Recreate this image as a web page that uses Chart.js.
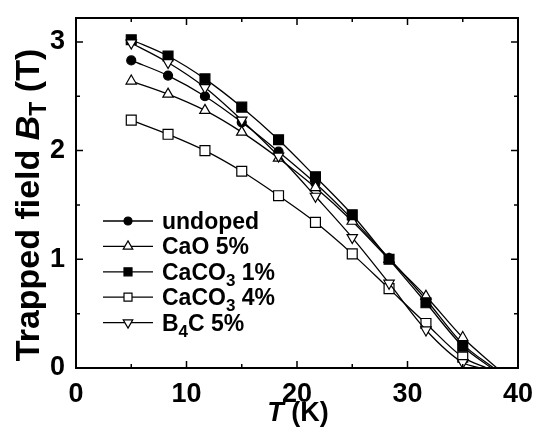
<!DOCTYPE html>
<html>
<head>
<meta charset="utf-8">
<script src="https://cdn.jsdelivr.net/npm/chart.js@4.4.1/dist/chart.umd.min.js"></script>
<style>
  html, body { margin: 0; padding: 0; background: #fff; }
  canvas { display: block; }
</style>
</head>
<body>
<canvas id="trapped" width="534" height="427"></canvas>
<script>
// measured temperatures (K)
const temps = [5, 8.33, 11.67, 15, 18.33, 21.67, 25, 28.33, 31.67, 35];

// trapped field B_T (T) for each sample
const undoped  = [2.83, 2.69, 2.50, 2.26, 1.99, 1.70, 1.37, 1.01, 0.63, 0.22];
const caO5     = [2.64, 2.52, 2.37, 2.17, 1.93, 1.66, 1.35, 1.00, 0.66, 0.28];
const caCO3_1  = [3.02, 2.87, 2.66, 2.40, 2.10, 1.76, 1.41, 1.00, 0.60, 0.20];
const caCO3_4  = [2.28, 2.15, 2.00, 1.81, 1.585, 1.34, 1.05, 0.73, 0.41, 0.10];
const b4C5     = [2.99, 2.81, 2.58, 2.28, 1.95, 1.58, 1.20, 0.78, 0.35, 0.05];

// temperature where each curve reaches zero (line only, no marker)
const zeroT = [37.8, 38.1, 37.6, 37.2, 36.6];

const xTicks = [0, 10, 20, 30, 40];
const yTicks = [0, 1, 2, 3];

const FONT = "'Liberation Sans', Arial, Helvetica, sans-serif";

// legend labels: [main, subscript, rest]
const labels = [
  ['undoped', '', ''],
  ['CaO 5%', '', ''],
  ['CaCO', '3', ' 1%'],
  ['CaCO', '3', ' 4%'],
  ['B', '4', 'C 5%']
];

const styles = [
  { shape: 'circle', fill: '#000', radius: 4.5, rot: 0 },
  { shape: 'triangle', fill: '#fff', radius: 6, rot: 0 },
  { shape: 'rect', fill: '#000', radius: 7, rot: 0 },
  { shape: 'rect', fill: '#fff', radius: 7, rot: 0 },
  { shape: 'triangle', fill: '#fff', radius: 6, rot: 180 }
];

const series = [undoped, caO5, caCO3_1, caCO3_4, b4C5];

function makeDataset(vals, i) {
  const st = styles[i];
  const pts = temps.map((t, k) => ({ x: t, y: vals[k] }));
  pts.push({ x: zeroT[i], y: 0 });
  return {
    label: labels[i].join(''),
    data: pts,
    showLine: true,
    borderColor: '#000',
    borderWidth: 1.3,
    cubicInterpolationMode: 'monotone',
    pointStyle: st.shape,
    pointRotation: st.rot,
    pointRadius: pts.map((p, k) => k < temps.length ? st.radius : 0),
    pointBackgroundColor: st.fill,
    pointBorderColor: '#000',
    pointBorderWidth: 1.2,
    order: 5 - i
  };
}

function marker(ctx, shape, x, y, r, rot, fill) {
  ctx.save();
  ctx.fillStyle = fill;
  ctx.strokeStyle = '#000';
  ctx.lineWidth = 1.2;
  ctx.beginPath();
  if (shape === 'circle') {
    ctx.arc(x, y, r, 0, Math.PI * 2);
  } else if (shape === 'rect') {
    ctx.rect(x - r, y - r, 2 * r, 2 * r);
  } else {
    const d = rot ? -1 : 1;
    ctx.moveTo(x, y - d * r);
    ctx.lineTo(x + r * 0.866, y + d * r * 0.5);
    ctx.lineTo(x - r * 0.866, y + d * r * 0.5);
    ctx.closePath();
  }
  ctx.fill();
  ctx.stroke();
  ctx.restore();
}

// no extra room for overflowing tick labels, the area is fixed by layout padding
function noPad(s) {
  s.paddingLeft = 0; s.paddingRight = 0; s.paddingTop = 0; s.paddingBottom = 0;
}

const framePlugin = {
  id: 'frame',
  afterDatasetsDraw(chart) {
    const { ctx, chartArea: a, scales } = chart;
    ctx.save();
    ctx.strokeStyle = '#000';
    ctx.lineWidth = 2;
    ctx.strokeRect(a.left, a.top, a.right - a.left, a.bottom - a.top);
    ctx.lineWidth = 1.5;
    ctx.beginPath();
    for (let t = 0; t <= 40; t += 5) {
      const x = scales.x.getPixelForValue(t);
      const len = t % 10 === 0 ? 7 : 4;
      ctx.moveTo(x, a.bottom); ctx.lineTo(x, a.bottom - len);
      ctx.moveTo(x, a.top); ctx.lineTo(x, a.top + len);
    }
    for (let b = 0; b <= 3; b += 0.5) {
      const y = scales.y.getPixelForValue(b);
      const len = b % 1 === 0 ? 7 : 4;
      ctx.moveTo(a.left, y); ctx.lineTo(a.left + len, y);
      ctx.moveTo(a.right, y); ctx.lineTo(a.right - len, y);
    }
    ctx.stroke();
    ctx.restore();
  },
  afterDraw(chart) {
    const ctx = chart.ctx;
    ctx.save();
    ctx.fillStyle = '#000';

    // legend
    const x0 = 103, x1 = 153, tx = 162, y0 = 221, dy = 25.4;
    labels.forEach((lab, i) => {
      const y = y0 + i * dy;
      const st = styles[i];
      ctx.strokeStyle = '#000';
      ctx.lineWidth = 1.3;
      ctx.beginPath();
      ctx.moveTo(x0, y); ctx.lineTo(x1, y);
      ctx.stroke();
      const r = st.shape === 'circle' ? 4 : (st.shape === 'rect' ? 4 : 5.5);
      marker(ctx, st.shape, 128, y, r, st.rot, st.fill);
      ctx.textBaseline = 'alphabetic';
      ctx.textAlign = 'left';
      ctx.font = 'bold 23px ' + FONT;
      let x = tx;
      ctx.fillText(lab[0], x, y + 8);
      x += ctx.measureText(lab[0]).width;
      if (lab[1]) {
        ctx.font = 'bold 17px ' + FONT;
        ctx.fillText(lab[1], x, y + 14);
        x += ctx.measureText(lab[1]).width;
        ctx.font = 'bold 23px ' + FONT;
        ctx.fillText(lab[2], x, y + 8);
      }
    });

    // x title: T (K)
    ctx.font = 'italic bold 27px ' + FONT;
    const wT = ctx.measureText('T').width;
    ctx.font = 'bold 27px ' + FONT;
    const wK = ctx.measureText(' (K)').width;
    const xs = 298 - (wT + wK) / 2;
    ctx.font = 'italic bold 27px ' + FONT;
    ctx.fillText('T', xs, 421);
    ctx.font = 'bold 27px ' + FONT;
    ctx.fillText(' (K)', xs + wT, 421);

    // y title: Trapped field B_T (T)
    ctx.translate(39, 205);
    ctx.rotate(-Math.PI / 2);
    const parts = [
      ['Trapped field ', 'bold 34px ', 0],
      ['B', 'italic bold 34px ', 0],
      ['T', 'bold 23px ', 7],
      [' (T)', 'bold 34px ', 0]
    ];
    let total = 0;
    parts.forEach(p => { ctx.font = p[1] + FONT; total += ctx.measureText(p[0]).width; });
    let px = -total / 2;
    parts.forEach(p => {
      ctx.font = p[1] + FONT;
      ctx.fillText(p[0], px, p[2]);
      px += ctx.measureText(p[0]).width;
    });
    ctx.restore();
  }
};

const ctx = document.getElementById('trapped').getContext('2d');

new Chart(ctx, {
  type: 'scatter',
  data: { datasets: series.map(makeDataset) },
  options: {
    responsive: false,
    animation: false,
    devicePixelRatio: 1,
    layout: { padding: { left: 0, top: 18, right: 16, bottom: 0 } },
    plugins: { legend: { display: false }, tooltip: { enabled: false } },
    scales: {
      x: {
        type: 'linear',
        min: 0,
        max: 40,
        grid: { display: false, drawTicks: false },
        border: { display: false },
        afterBuildTicks: s => { s.ticks = xTicks.map(v => ({ value: v })); },
        afterFit: s => { s.height = 59; noPad(s); },
        ticks: {
          color: '#000',
          padding: 10,
          maxRotation: 0,
          font: { family: FONT, size: 27, weight: 'bold' }
        }
      },
      y: {
        type: 'linear',
        min: 0,
        max: 3.22,
        grid: { display: false, drawTicks: false },
        border: { display: false },
        afterBuildTicks: s => { s.ticks = yTicks.map(v => ({ value: v })); },
        afterFit: s => { s.width = 76; noPad(s); },
        ticks: {
          color: '#000',
          padding: 11,
          font: { family: FONT, size: 27, weight: 'bold' }
        }
      }
    }
  },
  plugins: [framePlugin]
});
</script>
</body>
</html>
